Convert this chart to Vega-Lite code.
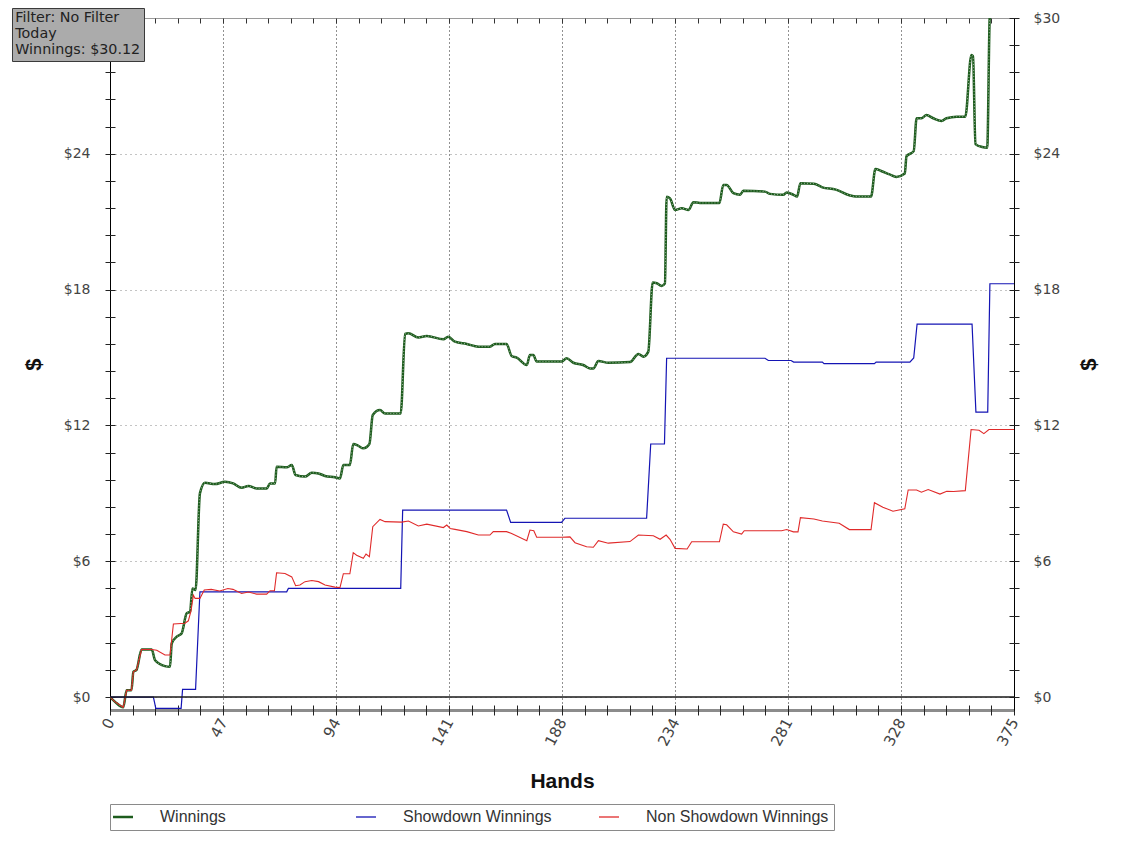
{
  "$schema": "https://vega.github.io/schema/vega-lite/v6.json",
  "width": 904,
  "height": 692,
  "autosize": "none",
  "padding": {"left": 110, "top": 18, "right": 110, "bottom": 137},
  "background": "white",
  "config": {"view": {"stroke": null}, "font": "DejaVu Sans"},
  "datasets": {
    "lines": [
      {"s":"Winnings","h":0,"v":0},{"s":"Winnings","h":2,"v":-0.2},{"s":"Winnings","h":5.5,"v":-0.45},{"s":"Winnings","h":6.9,"v":0.3},{"s":"Winnings","h":8.9,"v":0.3},{"s":"Winnings","h":9.7,"v":1.12},{"s":"Winnings","h":11,"v":1.2},{"s":"Winnings","h":13.1,"v":2.1},{"s":"Winnings","h":17.3,"v":2.1},{"s":"Winnings","h":18.7,"v":1.63},{"s":"Winnings","h":22.8,"v":1.37},{"s":"Winnings","h":24.9,"v":1.34},{"s":"Winnings","h":25.6,"v":2.37},{"s":"Winnings","h":27.7,"v":2.67},{"s":"Winnings","h":29.7,"v":2.81},{"s":"Winnings","h":31.8,"v":3.7},{"s":"Winnings","h":33.2,"v":3.77},{"s":"Winnings","h":34.2,"v":4.8},{"s":"Winnings","h":35.5,"v":4.73},{"s":"Winnings","h":37.3,"v":9.0},{"s":"Winnings","h":39.4,"v":9.47},{"s":"Winnings","h":43.5,"v":9.41},{"s":"Winnings","h":47.7,"v":9.51},{"s":"Winnings","h":51.1,"v":9.44},{"s":"Winnings","h":54.6,"v":9.25},{"s":"Winnings","h":57.4,"v":9.33},{"s":"Winnings","h":60.8,"v":9.22},{"s":"Winnings","h":65,"v":9.22},{"s":"Winnings","h":66.4,"v":9.44},{"s":"Winnings","h":68.5,"v":9.44},{"s":"Winnings","h":69.1,"v":10.18},{"s":"Winnings","h":73.3,"v":10.15},{"s":"Winnings","h":75.4,"v":10.25},{"s":"Winnings","h":77,"v":9.81},{"s":"Winnings","h":80.9,"v":9.74},{"s":"Winnings","h":83.7,"v":9.91},{"s":"Winnings","h":86.5,"v":9.88},{"s":"Winnings","h":89.2,"v":9.77},{"s":"Winnings","h":93.3,"v":9.71},{"s":"Winnings","h":95.4,"v":9.66},{"s":"Winnings","h":96.8,"v":10.25},{"s":"Winnings","h":99.5,"v":10.25},{"s":"Winnings","h":100.9,"v":11.18},{"s":"Winnings","h":103,"v":11.1},{"s":"Winnings","h":105.1,"v":10.99},{"s":"Winnings","h":107.6,"v":11.18},{"s":"Winnings","h":109,"v":12.46},{"s":"Winnings","h":112,"v":12.68},{"s":"Winnings","h":114.1,"v":12.53},{"s":"Winnings","h":120.6,"v":12.53},{"s":"Winnings","h":122.4,"v":16.04},{"s":"Winnings","h":123.8,"v":16.07},{"s":"Winnings","h":127.9,"v":15.89},{"s":"Winnings","h":131.4,"v":15.95},{"s":"Winnings","h":138.3,"v":15.81},{"s":"Winnings","h":140.3,"v":15.92},{"s":"Winnings","h":143.1,"v":15.7},{"s":"Winnings","h":148,"v":15.6},{"s":"Winnings","h":152.8,"v":15.48},{"s":"Winnings","h":157.6,"v":15.48},{"s":"Winnings","h":159.7,"v":15.6},{"s":"Winnings","h":164.5,"v":15.6},{"s":"Winnings","h":166.6,"v":15.07},{"s":"Winnings","h":168.7,"v":15.0},{"s":"Winnings","h":172.9,"v":14.67},{"s":"Winnings","h":174.2,"v":15.11},{"s":"Winnings","h":175.6,"v":15.11},{"s":"Winnings","h":177,"v":14.82},{"s":"Winnings","h":187.4,"v":14.82},{"s":"Winnings","h":189.4,"v":14.97},{"s":"Winnings","h":192.2,"v":14.77},{"s":"Winnings","h":196.3,"v":14.67},{"s":"Winnings","h":199.1,"v":14.52},{"s":"Winnings","h":200.5,"v":14.52},{"s":"Winnings","h":202.6,"v":14.85},{"s":"Winnings","h":206.7,"v":14.77},{"s":"Winnings","h":215.7,"v":14.8},{"s":"Winnings","h":219.2,"v":15.16},{"s":"Winnings","h":221.3,"v":15.04},{"s":"Winnings","h":223.3,"v":15.26},{"s":"Winnings","h":225.1,"v":18.31},{"s":"Winnings","h":226.8,"v":18.28},{"s":"Winnings","h":228.8,"v":18.16},{"s":"Winnings","h":230.2,"v":18.28},{"s":"Winnings","h":230.9,"v":22.1},{"s":"Winnings","h":232.3,"v":22.03},{"s":"Winnings","h":234.4,"v":21.52},{"s":"Winnings","h":237.2,"v":21.59},{"s":"Winnings","h":240,"v":21.52},{"s":"Winnings","h":242,"v":21.86},{"s":"Winnings","h":244.7,"v":21.83},{"s":"Winnings","h":252.8,"v":21.83},{"s":"Winnings","h":254.4,"v":22.62},{"s":"Winnings","h":255.8,"v":22.62},{"s":"Winnings","h":258.6,"v":22.26},{"s":"Winnings","h":261.4,"v":22.19},{"s":"Winnings","h":262.7,"v":22.37},{"s":"Winnings","h":271.7,"v":22.33},{"s":"Winnings","h":273.8,"v":22.23},{"s":"Winnings","h":279.3,"v":22.19},{"s":"Winnings","h":280.7,"v":22.29},{"s":"Winnings","h":283.5,"v":22.19},{"s":"Winnings","h":285,"v":22.11},{"s":"Winnings","h":286.4,"v":22.7},{"s":"Winnings","h":292,"v":22.68},{"s":"Winnings","h":295.5,"v":22.52},{"s":"Winnings","h":301.1,"v":22.42},{"s":"Winnings","h":306.7,"v":22.17},{"s":"Winnings","h":309.4,"v":22.11},{"s":"Winnings","h":315.7,"v":22.11},{"s":"Winnings","h":317.5,"v":23.33},{"s":"Winnings","h":319.9,"v":23.24},{"s":"Winnings","h":323.4,"v":23.09},{"s":"Winnings","h":326.2,"v":22.98},{"s":"Winnings","h":329.7,"v":23.13},{"s":"Winnings","h":330.4,"v":23.89},{"s":"Winnings","h":333.4,"v":24.12},{"s":"Winnings","h":334.6,"v":25.57},{"s":"Winnings","h":336.6,"v":25.57},{"s":"Winnings","h":338.7,"v":25.71},{"s":"Winnings","h":341.5,"v":25.57},{"s":"Winnings","h":345,"v":25.45},{"s":"Winnings","h":347,"v":25.57},{"s":"Winnings","h":351.2,"v":25.64},{"s":"Winnings","h":354.8,"v":25.64},{"s":"Winnings","h":357.3,"v":28.36},{"s":"Winnings","h":358,"v":28.31},{"s":"Winnings","h":359,"v":24.43},{"s":"Winnings","h":361.8,"v":24.3},{"s":"Winnings","h":363.9,"v":24.27},{"s":"Winnings","h":365,"v":30.12},{"s":"Winnings","h":375,"v":30.12},

      {"s":"Showdown Winnings","h":0,"v":0},{"s":"Showdown Winnings","h":18,"v":0},{"s":"Showdown Winnings","h":19,"v":-0.5},{"s":"Showdown Winnings","h":29.5,"v":-0.5},{"s":"Showdown Winnings","h":30.1,"v":0.34},{"s":"Showdown Winnings","h":35.5,"v":0.34},{"s":"Showdown Winnings","h":37.3,"v":4.65},{"s":"Showdown Winnings","h":73.3,"v":4.65},{"s":"Showdown Winnings","h":74,"v":4.8},{"s":"Showdown Winnings","h":120.6,"v":4.8},{"s":"Showdown Winnings","h":121.4,"v":8.26},{"s":"Showdown Winnings","h":164.5,"v":8.26},{"s":"Showdown Winnings","h":166.2,"v":7.72},{"s":"Showdown Winnings","h":187.3,"v":7.72},{"s":"Showdown Winnings","h":188.7,"v":7.9},{"s":"Showdown Winnings","h":222.6,"v":7.9},{"s":"Showdown Winnings","h":224.3,"v":11.18},{"s":"Showdown Winnings","h":230,"v":11.18},{"s":"Showdown Winnings","h":230.9,"v":14.97},{"s":"Showdown Winnings","h":271.7,"v":14.97},{"s":"Showdown Winnings","h":273.1,"v":14.87},{"s":"Showdown Winnings","h":282.5,"v":14.87},{"s":"Showdown Winnings","h":283.6,"v":14.8},{"s":"Showdown Winnings","h":295.5,"v":14.8},{"s":"Showdown Winnings","h":296.2,"v":14.73},{"s":"Showdown Winnings","h":317.1,"v":14.73},{"s":"Showdown Winnings","h":317.8,"v":14.8},{"s":"Showdown Winnings","h":331.8,"v":14.8},{"s":"Showdown Winnings","h":333.4,"v":14.98},{"s":"Showdown Winnings","h":334.8,"v":16.48},{"s":"Showdown Winnings","h":357.6,"v":16.48},{"s":"Showdown Winnings","h":359.2,"v":12.59},{"s":"Showdown Winnings","h":364.1,"v":12.59},{"s":"Showdown Winnings","h":365,"v":18.26},{"s":"Showdown Winnings","h":375,"v":18.26},

      {"s":"Non Showdown Winnings","h":0,"v":0},{"s":"Non Showdown Winnings","h":2,"v":-0.2},{"s":"Non Showdown Winnings","h":5.5,"v":-0.45},{"s":"Non Showdown Winnings","h":6.9,"v":0.3},{"s":"Non Showdown Winnings","h":8.9,"v":0.3},{"s":"Non Showdown Winnings","h":9.7,"v":1.12},{"s":"Non Showdown Winnings","h":11,"v":1.2},{"s":"Non Showdown Winnings","h":13.1,"v":2.1},{"s":"Non Showdown Winnings","h":17.3,"v":2.1},{"s":"Non Showdown Winnings","h":19.4,"v":2.07},{"s":"Non Showdown Winnings","h":22.8,"v":1.86},{"s":"Non Showdown Winnings","h":24.9,"v":1.86},{"s":"Non Showdown Winnings","h":26.3,"v":3.23},{"s":"Non Showdown Winnings","h":31.1,"v":3.26},{"s":"Non Showdown Winnings","h":32.5,"v":3.37},{"s":"Non Showdown Winnings","h":33.6,"v":3.81},{"s":"Non Showdown Winnings","h":34.6,"v":4.5},{"s":"Non Showdown Winnings","h":35.3,"v":4.36},{"s":"Non Showdown Winnings","h":37.3,"v":4.36},{"s":"Non Showdown Winnings","h":39.1,"v":4.73},{"s":"Non Showdown Winnings","h":42,"v":4.76},{"s":"Non Showdown Winnings","h":45.5,"v":4.69},{"s":"Non Showdown Winnings","h":48.9,"v":4.8},{"s":"Non Showdown Winnings","h":51,"v":4.76},{"s":"Non Showdown Winnings","h":54.6,"v":4.58},{"s":"Non Showdown Winnings","h":57.4,"v":4.64},{"s":"Non Showdown Winnings","h":60.8,"v":4.55},{"s":"Non Showdown Winnings","h":65,"v":4.55},{"s":"Non Showdown Winnings","h":66.4,"v":4.7},{"s":"Non Showdown Winnings","h":68.2,"v":4.7},{"s":"Non Showdown Winnings","h":69.1,"v":5.49},{"s":"Non Showdown Winnings","h":72.6,"v":5.46},{"s":"Non Showdown Winnings","h":75.4,"v":5.31},{"s":"Non Showdown Winnings","h":77,"v":4.92},{"s":"Non Showdown Winnings","h":78.8,"v":4.95},{"s":"Non Showdown Winnings","h":80.9,"v":5.1},{"s":"Non Showdown Winnings","h":83.7,"v":5.15},{"s":"Non Showdown Winnings","h":86.5,"v":5.1},{"s":"Non Showdown Winnings","h":89.2,"v":4.95},{"s":"Non Showdown Winnings","h":93.3,"v":4.86},{"s":"Non Showdown Winnings","h":95.4,"v":4.84},{"s":"Non Showdown Winnings","h":96.8,"v":5.45},{"s":"Non Showdown Winnings","h":99.5,"v":5.45},{"s":"Non Showdown Winnings","h":100.9,"v":6.38},{"s":"Non Showdown Winnings","h":102.3,"v":6.27},{"s":"Non Showdown Winnings","h":105.1,"v":6.13},{"s":"Non Showdown Winnings","h":106.2,"v":6.32},{"s":"Non Showdown Winnings","h":107.6,"v":6.2},{"s":"Non Showdown Winnings","h":109,"v":7.53},{"s":"Non Showdown Winnings","h":112,"v":7.85},{"s":"Non Showdown Winnings","h":114.1,"v":7.75},{"s":"Non Showdown Winnings","h":121,"v":7.73},{"s":"Non Showdown Winnings","h":123.8,"v":7.78},{"s":"Non Showdown Winnings","h":127.9,"v":7.56},{"s":"Non Showdown Winnings","h":131.4,"v":7.64},{"s":"Non Showdown Winnings","h":138.3,"v":7.49},{"s":"Non Showdown Winnings","h":139.7,"v":7.6},{"s":"Non Showdown Winnings","h":141.1,"v":7.45},{"s":"Non Showdown Winnings","h":143.1,"v":7.41},{"s":"Non Showdown Winnings","h":148,"v":7.31},{"s":"Non Showdown Winnings","h":152.8,"v":7.16},{"s":"Non Showdown Winnings","h":157.6,"v":7.16},{"s":"Non Showdown Winnings","h":159,"v":7.31},{"s":"Non Showdown Winnings","h":164.5,"v":7.31},{"s":"Non Showdown Winnings","h":166.6,"v":7.23},{"s":"Non Showdown Winnings","h":172.9,"v":6.91},{"s":"Non Showdown Winnings","h":174.2,"v":7.38},{"s":"Non Showdown Winnings","h":175.8,"v":7.35},{"s":"Non Showdown Winnings","h":177,"v":7.06},{"s":"Non Showdown Winnings","h":187.4,"v":7.06},{"s":"Non Showdown Winnings","h":190.8,"v":7.08},{"s":"Non Showdown Winnings","h":192.9,"v":6.82},{"s":"Non Showdown Winnings","h":197.7,"v":6.64},{"s":"Non Showdown Winnings","h":200.5,"v":6.62},{"s":"Non Showdown Winnings","h":202.6,"v":6.91},{"s":"Non Showdown Winnings","h":206.7,"v":6.8},{"s":"Non Showdown Winnings","h":215.7,"v":6.87},{"s":"Non Showdown Winnings","h":219.2,"v":7.16},{"s":"Non Showdown Winnings","h":225.4,"v":7.13},{"s":"Non Showdown Winnings","h":228.2,"v":6.97},{"s":"Non Showdown Winnings","h":230.7,"v":7.16},{"s":"Non Showdown Winnings","h":232.3,"v":6.97},{"s":"Non Showdown Winnings","h":234.4,"v":6.57},{"s":"Non Showdown Winnings","h":239.4,"v":6.54},{"s":"Non Showdown Winnings","h":241.3,"v":6.86},{"s":"Non Showdown Winnings","h":252.8,"v":6.86},{"s":"Non Showdown Winnings","h":254.4,"v":7.64},{"s":"Non Showdown Winnings","h":255.8,"v":7.61},{"s":"Non Showdown Winnings","h":258.6,"v":7.3},{"s":"Non Showdown Winnings","h":262,"v":7.2},{"s":"Non Showdown Winnings","h":263.1,"v":7.35},{"s":"Non Showdown Winnings","h":278.6,"v":7.35},{"s":"Non Showdown Winnings","h":280.7,"v":7.4},{"s":"Non Showdown Winnings","h":283.5,"v":7.3},{"s":"Non Showdown Winnings","h":285.4,"v":7.3},{"s":"Non Showdown Winnings","h":286.4,"v":7.93},{"s":"Non Showdown Winnings","h":292,"v":7.87},{"s":"Non Showdown Winnings","h":295.5,"v":7.78},{"s":"Non Showdown Winnings","h":302.5,"v":7.68},{"s":"Non Showdown Winnings","h":306.7,"v":7.4},{"s":"Non Showdown Winnings","h":315.7,"v":7.4},{"s":"Non Showdown Winnings","h":317.1,"v":8.59},{"s":"Non Showdown Winnings","h":320.6,"v":8.39},{"s":"Non Showdown Winnings","h":324.8,"v":8.21},{"s":"Non Showdown Winnings","h":329.7,"v":8.32},{"s":"Non Showdown Winnings","h":331.1,"v":9.15},{"s":"Non Showdown Winnings","h":334.6,"v":9.15},{"s":"Non Showdown Winnings","h":336.6,"v":9.05},{"s":"Non Showdown Winnings","h":339.4,"v":9.17},{"s":"Non Showdown Winnings","h":344.3,"v":8.97},{"s":"Non Showdown Winnings","h":347.1,"v":9.09},{"s":"Non Showdown Winnings","h":349.9,"v":9.08},{"s":"Non Showdown Winnings","h":354.8,"v":9.12},{"s":"Non Showdown Winnings","h":357.2,"v":11.82},{"s":"Non Showdown Winnings","h":360.5,"v":11.79},{"s":"Non Showdown Winnings","h":362.5,"v":11.64},{"s":"Non Showdown Winnings","h":364.6,"v":11.82},{"s":"Non Showdown Winnings","h":375,"v":11.82}
    ],
    "info": [
      {"t": "Filter: No Filter"},
      {"t": "Today"},
      {"t": "Winnings: $30.12"}
    ]
  },
  "layer": [
    {
      "data": {"name": "lines"},
      "transform": [{"filter": "datum.s === 'Winnings'"}],
      "mark": {"type": "line", "strokeWidth": 2.5, "interpolate": "monotone", "clip": true},
      "encoding": {
        "x": {
          "field": "h", "type": "quantitative",
          "scale": {"domain": [0, 375], "nice": false, "zero": false},
          "axis": {
            "orient": "bottom",
            "values": [0, 46.875, 93.75, 140.625, 187.5, 234.375, 281.25, 328.125, 375],
            "format": ".0f",
            "labelAngle": -62, "labelAlign": "right", "labelBaseline": "middle",
            "labelFont": "DejaVu Sans", "labelFontSize": 15, "labelColor": "#444444", "labelPadding": 9,
            "ticks": false,
            "domainColor": "#8c8c8c", "domainWidth": 3,
            "grid": true, "gridColor": "#222222", "gridDash": [1, 3], "gridWidth": 1,
            "title": "Hands", "titleFont": "Liberation Sans", "titleFontSize": 21, "titleFontWeight": "bold",
            "titleColor": "#111111", "titleBaseline": "top", "titleY": 60
          }
        },
        "y": {
          "field": "v", "type": "quantitative",
          "scale": {"domain": [-0.57, 30], "nice": false, "zero": false},
          "axis": {
            "orient": "left",
            "values": [0, 6, 12, 18, 24, 30],
            "labelExpr": "datum.value == 30 ? '' : '$' + datum.value",
            "labelFont": "DejaVu Sans", "labelFontSize": 14, "labelColor": "#444444", "labelPadding": 20,
            "ticks": false,
            "domainColor": "#000000", "domainWidth": 1,
            "grid": true, "gridColor": "#888888", "gridDash": [1, 4], "gridWidth": 1,
            "title": "$", "titleFont": "Liberation Sans", "titleFontSize": 22, "titleFontWeight": "bold",
            "titleColor": "#111111", "titleX": -77, "titleY": 346, "titleAngle": -90, "titleAlign": "center", "titleBaseline": "middle"
          }
        },
        "color": {
          "field": "s", "type": "nominal",
          "scale": {"domain": ["Winnings", "Showdown Winnings", "Non Showdown Winnings"], "range": ["#1d5c1d", "#1414b4", "#e02a2a"]},
          "legend": {
            "orient": "none", "legendX": 0, "legendY": 786,
            "direction": "horizontal", "columns": 3, "gridAlign": "all", "columnPadding": 10,
            "title": null, "symbolType": "stroke", "symbolSize": 400, "symbolStrokeWidth": 1.5,
            "labelFont": "Liberation Sans", "labelFontSize": 16, "labelColor": "#333333", "labelOffset": 29, "labelLimit": 400,
            "padding": 5, "fillColor": "#ffffff", "strokeColor": "#8a8a8a",
            "encode": {"symbols": {"update": {"strokeWidth": {"signal": "datum.value === 'Winnings' ? 2.5 : 1.3"}}}}
          }
        }
      }
    },
    {
      "data": {"name": "lines"},
      "transform": [{"filter": "datum.s === 'Winnings'"}],
      "mark": {"type": "line", "strokeWidth": 1, "interpolate": "monotone", "clip": true, "color": "#b9c9b9", "strokeDash": [1, 2], "opacity": 0.8},
      "encoding": {
        "x": {"field": "h", "type": "quantitative", "axis": null},
        "y": {"field": "v", "type": "quantitative", "axis": null}
      }
    },
    {
      "data": {"name": "lines"},
      "transform": [{"filter": "datum.s === 'Showdown Winnings'"}],
      "mark": {"type": "line", "strokeWidth": 1.2, "clip": true},
      "encoding": {
        "x": {"field": "h", "type": "quantitative", "axis": null},
        "y": {"field": "v", "type": "quantitative", "axis": null},
        "color": {"field": "s", "type": "nominal"}
      }
    },
    {
      "data": {"name": "lines"},
      "transform": [{"filter": "datum.s === 'Non Showdown Winnings'"}],
      "mark": {"type": "line", "strokeWidth": 1.1, "clip": true},
      "encoding": {
        "x": {"field": "h", "type": "quantitative", "axis": null},
        "y": {"field": "v", "type": "quantitative", "axis": null},
        "color": {"field": "s", "type": "nominal"}
      }
    },
    {
      "data": {"values": [{}]},
      "mark": {"type": "rule", "color": "#1a1a1a", "strokeWidth": 1.5},
      "encoding": {
        "y": {"datum": 0, "type": "quantitative", "axis": null}
      }
    },
    {
      "data": {"name": "lines"},
      "transform": [{"filter": "datum.h === 0"}],
      "mark": {"type": "point", "opacity": 0},
      "encoding": {
        "x": {
          "field": "h", "type": "quantitative",
          "axis": {"orient": "top", "labels": false, "ticks": false, "grid": false, "domainColor": "#9a9a9a", "domainWidth": 1, "title": null}
        },
        "y": {
          "field": "v", "type": "quantitative",
          "axis": {
            "orient": "right",
            "values": [0, 6, 12, 18, 24, 30],
            "labelExpr": "'$' + datum.value",
            "labelFont": "DejaVu Sans", "labelFontSize": 14, "labelColor": "#444444", "labelPadding": 19,
            "ticks": false, "grid": false,
            "domainColor": "#000000", "domainWidth": 1,
            "title": "$", "titleFont": "Liberation Sans", "titleFontSize": 22, "titleFontWeight": "bold",
            "titleColor": "#111111", "titleX": 74, "titleY": 346, "titleAngle": -90, "titleAlign": "center", "titleBaseline": "middle"
          }
        }
      }
    },
    {
      "data": {"name": "lines"},
      "transform": [{"filter": "datum.h === 0"}],
      "mark": {"type": "point", "opacity": 0},
      "encoding": {
        "x": {
          "field": "h", "type": "quantitative",
          "axis": {
            "orient": "bottom", "offset": -5, "labels": false, "domain": false, "grid": false, "title": null,
            "values": [0, 9.375, 18.75, 28.125, 37.5, 46.875, 56.25, 65.625, 75, 84.375, 93.75, 103.125, 112.5, 121.875, 131.25, 140.625, 150, 159.375, 168.75, 178.125, 187.5, 196.875, 206.25, 215.625, 225, 234.375, 243.75, 253.125, 262.5, 271.875, 281.25, 290.625, 300, 309.375, 318.75, 328.125, 337.5, 346.875, 356.25, 365.625, 375],
            "ticks": true, "tickSize": 10, "tickColor": "#222222", "tickWidth": 1
          }
        },
        "y": {
          "field": "v", "type": "quantitative",
          "axis": {
            "orient": "left", "offset": -5, "labels": false, "domain": false, "grid": false, "title": null,
            "values": [0, 1.2, 2.4, 3.6, 4.8, 6, 7.2, 8.4, 9.6, 10.8, 12, 13.2, 14.4, 15.6, 16.8, 18, 19.2, 20.4, 21.6, 22.8, 24, 25.2, 26.4, 27.6, 28.8, 30],
            "ticks": true, "tickSize": 10, "tickColor": "#222222", "tickWidth": 1
          }
        }
      }
    },
    {
      "data": {"name": "lines"},
      "transform": [{"filter": "datum.h === 0"}],
      "mark": {"type": "point", "opacity": 0},
      "encoding": {
        "x": {
          "field": "h", "type": "quantitative",
          "axis": {
            "orient": "top", "offset": -5, "labels": false, "domain": false, "grid": false, "title": null,
            "values": [0, 9.375, 18.75, 28.125, 37.5, 46.875, 56.25, 65.625, 75, 84.375, 93.75, 103.125, 112.5, 121.875, 131.25, 140.625, 150, 159.375, 168.75, 178.125, 187.5, 196.875, 206.25, 215.625, 225, 234.375, 243.75, 253.125, 262.5, 271.875, 281.25, 290.625, 300, 309.375, 318.75, 328.125, 337.5, 346.875, 356.25, 365.625, 375],
            "ticks": true, "tickSize": 5, "tickColor": "#333333", "tickWidth": 1
          }
        },
        "y": {
          "field": "v", "type": "quantitative",
          "axis": {
            "orient": "right", "offset": -5, "labels": false, "domain": false, "grid": false, "title": null,
            "values": [0, 1.2, 2.4, 3.6, 4.8, 6, 7.2, 8.4, 9.6, 10.8, 12, 13.2, 14.4, 15.6, 16.8, 18, 19.2, 20.4, 21.6, 22.8, 24, 25.2, 26.4, 27.6, 28.8, 30],
            "ticks": true, "tickSize": 10, "tickColor": "#222222", "tickWidth": 1
          }
        }
      }
    },
    {
      "data": {"name": "info"},
      "mark": {"type": "point", "opacity": 0},
      "encoding": {
        "shape": {
          "field": "t", "type": "nominal",
          "scale": {"domain": ["Filter: No Filter", "Today", "Winnings: $30.12"]},
          "legend": {
            "orient": "none", "legendX": -98, "legendY": -10,
            "direction": "vertical", "title": null,
            "symbolOpacity": 0, "symbolSize": 0, "symbolStrokeWidth": 0, "labelOffset": -14,
            "labelFont": "DejaVu Sans", "labelFontSize": 14.3, "labelColor": "#222222", "labelLimit": 300,
            "rowPadding": 1, "padding": 3, "fillColor": "#ababab", "strokeColor": "#3a3a3a"
          }
        }
      }
    }
  ],
  "resolve": {"axis": {"x": "independent", "y": "independent"}}
}
